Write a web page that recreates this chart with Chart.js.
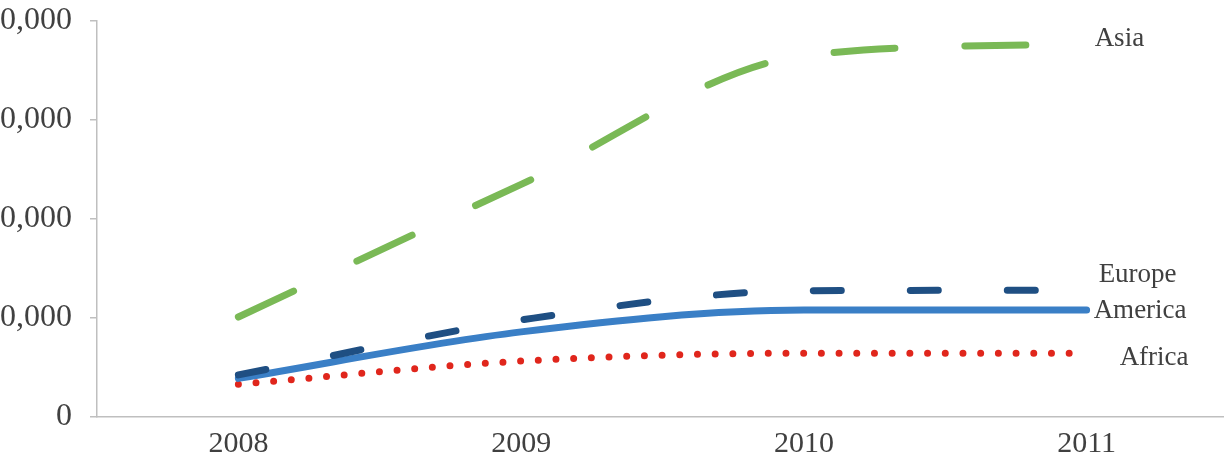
<!DOCTYPE html>
<html>
<head>
<meta charset="utf-8">
<script src="https://cdn.jsdelivr.net/npm/chart.js@4.4.1/dist/chart.umd.min.js"></script>
<style>
  html, body { margin: 0; padding: 0; background: #fff; overflow: hidden; }
  #wrap { position: absolute; left: -40px; top: 0; width: 1268px; height: 475px; }
</style>
</head>
<body>
<div id="wrap"><canvas id="regionchart"></canvas></div>
<script>
  // Setup Block
  const years = ['2008', '2009', '2010', '2011'];
  const asia = [20200, 47000, 73000, 75300];
  const europe = [8500, 19600, 25500, 25600];
  const america = [7800, 17200, 21600, 21600];
  const africa = [6600, 11300, 12900, 12900];
  const yTicks = [0, 20000, 40000, 60000, 80000];

  const serif = '"Liberation Serif", "Times New Roman", serif';
  const axisGrey = '#bfbfbf';

  const data_region = {
    labels: years,
    datasets: [{
      label: 'Asia',
      data: asia,
      borderColor: '#7ab956',
      borderWidth: 7,
      borderDash: [61, 70],
      borderCapStyle: 'round',
      cubicInterpolationMode: 'monotone',
      pointRadius: 0
    }, {
      label: 'Europe',
      data: europe,
      borderColor: '#1f4f83',
      borderWidth: 7,
      borderDash: [28, 69],
      borderCapStyle: 'round',
      cubicInterpolationMode: 'monotone',
      pointRadius: 0
    }, {
      label: 'America',
      data: america,
      borderColor: '#3a7fc6',
      borderWidth: 7,
      borderCapStyle: 'round',
      cubicInterpolationMode: 'monotone',
      pointRadius: 0
    }, {
      label: 'Africa',
      data: africa,
      borderColor: '#e0261c',
      borderWidth: 7,
      borderDash: [0, 17.7],
      borderCapStyle: 'round',
      cubicInterpolationMode: 'monotone',
      pointRadius: 0
    }]
  };

  // end-of-line labels (offsets from the last point)
  const endLabels = {
    id: 'endLabels',
    afterDatasetsDraw(chart) {
      const shift = { Asia: [8, 2], Europe: [12, -8], America: [7, 8], Africa: [33, 12] };
      const ctx = chart.ctx;
      ctx.save();
      ctx.font = '27px ' + serif;
      ctx.fillStyle = '#404040';
      ctx.textAlign = 'left';
      ctx.textBaseline = 'alphabetic';
      chart.data.datasets.forEach((ds, i) => {
        const pts = chart.getDatasetMeta(i).data;
        const last = pts[pts.length - 1];
        const s = shift[ds.label];
        ctx.fillText(ds.label, last.x + s[0], last.y + s[1]);
      });
      ctx.restore();
    }
  };

  // Config Block
  const config_region = {
    type: 'line',
    data: data_region,
    plugins: [endLabels],
    options: {
      responsive: true,
      maintainAspectRatio: false,
      animation: false,
      layout: { padding: { top: 21, right: 0, bottom: 13, left: 0 } },
      plugins: {
        legend: { display: false },
        tooltip: { enabled: false }
      },
      scales: {
        x: {
          offset: true,
          afterFit: (scale) => {
            scale.height = 45;
            scale.paddingLeft = 0;
            scale.paddingRight = 0;
          },
          grid: { drawOnChartArea: false, drawTicks: false, offset: true },
          border: { color: axisGrey, width: 1.5 },
          ticks: { color: '#404040', padding: 9, font: { family: serif, size: 30 } }
        },
        y: {
          min: 0,
          max: 80000,
          afterFit: (scale) => {
            scale.width = 137;
            scale.paddingTop = 0;
            scale.paddingBottom = 0;
          },
          afterBuildTicks: (scale) => { scale.ticks = yTicks.map(v => ({ value: v })); },
          grid: { drawOnChartArea: false, drawTicks: true, tickLength: 7, color: axisGrey, lineWidth: 1.5 },
          border: { color: axisGrey, width: 1.5 },
          ticks: { color: '#404040', padding: 18, font: { family: serif, size: 32 } }
        }
      }
    }
  };

  // Render Block
  const regionchart = new Chart(
    document.getElementById('regionchart'),
    config_region
  );
</script>
</body>
</html>
